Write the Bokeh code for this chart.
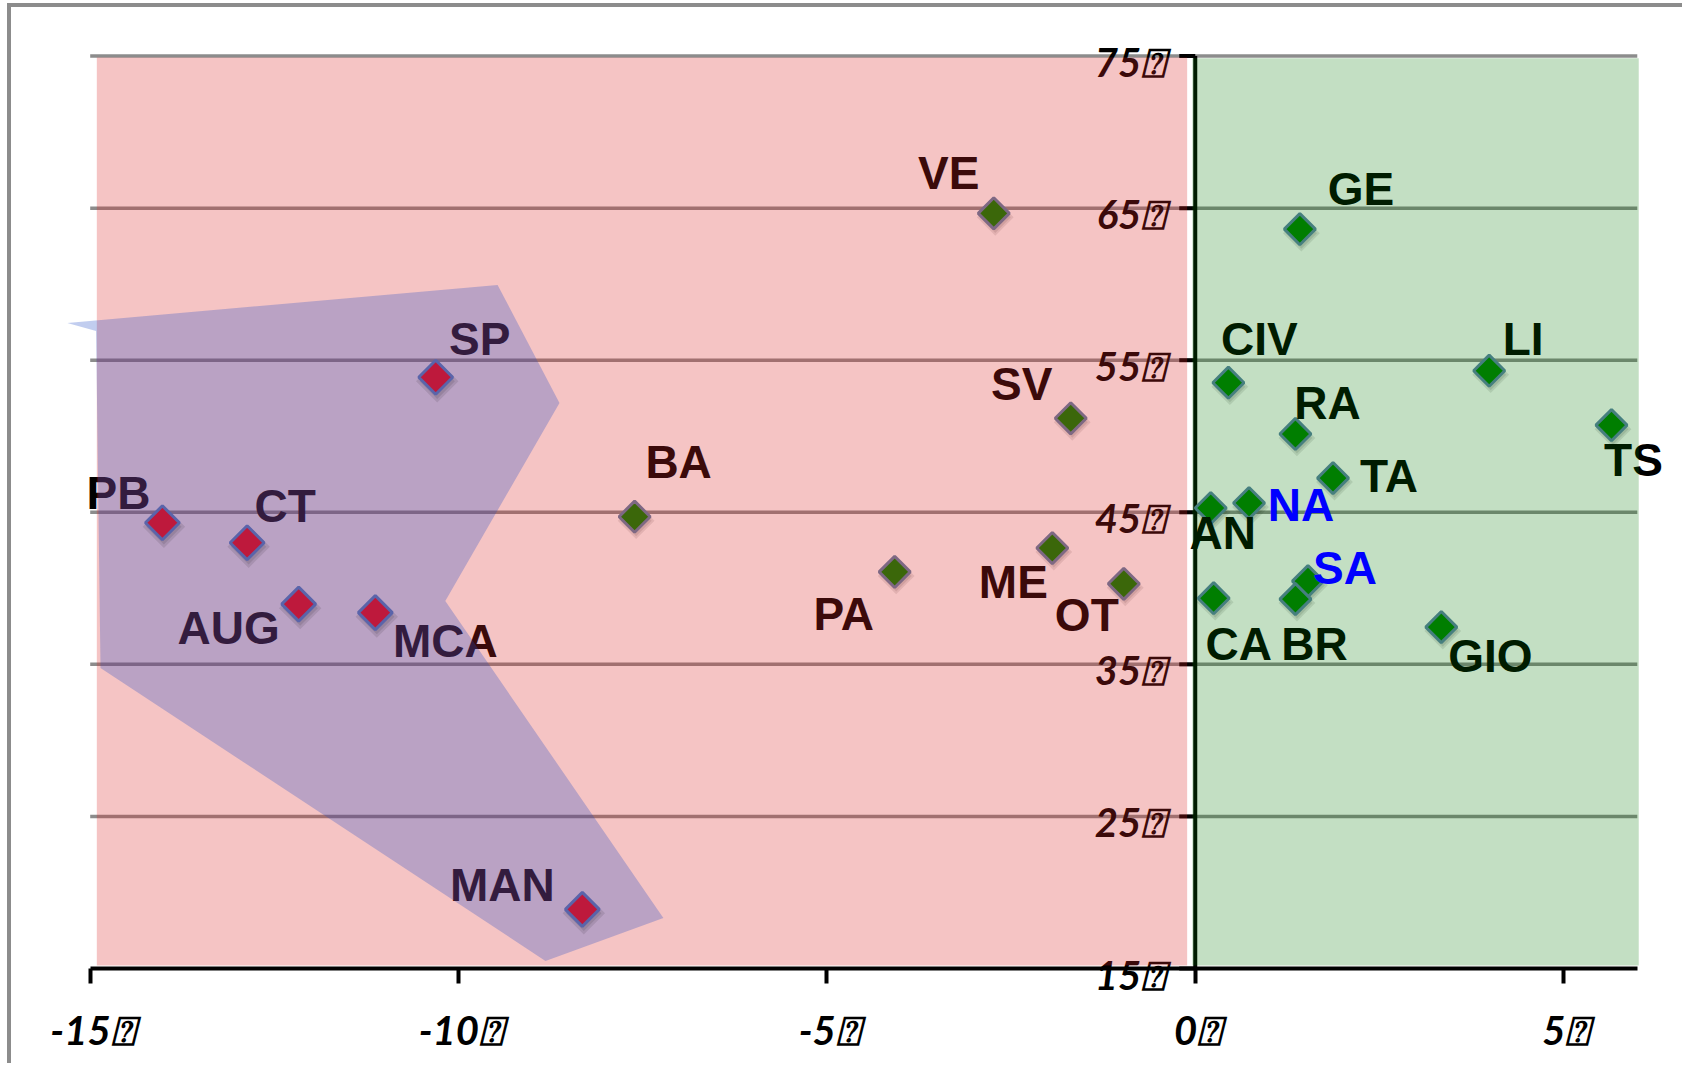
import numpy as np
from bokeh.plotting import figure
from bokeh.models import Range1d, FixedTicker
from bokeh.core.properties import value
from bokeh.embed import file_html
from bokeh.resources import INLINE

# ---------------- data ----------------
red_names = ["PB", "CT", "AUG", "MCA", "SP", "MAN"]
red_x = [-14.02, -12.87, -12.17, -11.13, -10.31, -8.32]
red_y = [44.31, 43.00, 38.96, 38.40, 53.88, 18.89]

green_names = ["BA", "PA", "VE", "SV", "ME", "OT", "CIV", "GE", "RA", "TA",
               "AN", "NA", "SA", "CA", "BR", "GIO", "LI", "TS"]
green_x = [-7.61, -4.08, -2.735, -1.69, -1.94, -0.97, 0.45, 1.42, 1.36, 1.87,
           0.21, 0.73, 1.53, 0.25, 1.36, 3.34, 3.99, 5.65]
green_y = [44.71, 41.08, 64.66, 51.18, 42.65, 40.30, 53.52, 63.62, 50.15, 47.25,
           45.28, 45.61, 40.47, 39.35, 39.29, 37.45, 54.31, 50.73]
blue_label_names = ["NA", "SA"]

# hand-drawn cluster outline around the red group
poly_x = [-15.31, -9.47, -8.63, -10.18, -7.22, -8.82, -14.86, -14.92]
poly_y = [57.45, 59.95, 52.19, 39.17, 18.32, 15.50, 34.76, 56.92]

x_ticks = [-15, -10, -5, 0, 5]
x_tick_labels = ["-15⍰", "-10⍰", "-5⍰", "0⍰", "5⍰"]
y_ticks = [15, 25, 35, 45, 55, 65, 75]
y_tick_labels = ["15⍰", "25⍰", "35⍰", "45⍰", "55⍰", "65⍰", "75⍰"]

# ---------------- style / layout ----------------
red_lab_dx = [-44, 38, -70, 70, 44, -80]
red_lab_dy = [-30, -37, 24, 28, -38, -24]
green_lab_dx = [44, -51, -45, -49, -39, -37, 31, 61, 32, 56, 12, 52, 37, 25, 19, 49, 34, 22]
green_lab_dy = [-55, 42, -40, -34, 34, 31, -44, -40, -31, -2, 25, 2, -13, 46, 45, 29, -32, 35]

PXX = 73.67     # px per x unit
PXY = 15.207    # px per y unit
W, H = 1675, 1060
ML, MR, MT, MB = 20, 10, 0, 10
ORX, ORY = 11, 7            # page position of the canvas origin
X15_PAGE, Y15_PAGE = 89.7, 968.0
x0 = -15 - (X15_PAGE - ORX - ML) / PXX
x1 = x0 + (W - ML - MR) / PXX
y1 = 15 + (Y15_PAGE - ORY - MT) / PXY
y0 = y1 - (H - MT - MB) / PXY

PINK = (217, 37, 37)
GREEN = (0, 120, 0)
PURPLE = (34, 75, 196)
pink_box = dict(left=-14.91, right=-0.11, bottom=15.2, top=74.9)
green_box = dict(left=-0.04, right=6.02, bottom=15.2, top=74.85)

p = figure(width=W, height=H, x_range=Range1d(x0, x1), y_range=Range1d(y0, y1),
           output_backend="svg", toolbar_location=None, y_axis_location=None,
           min_border_left=ML, min_border_right=MR, min_border_top=MT,
           min_border_bottom=MB)
p.outline_line_color = None
p.grid.grid_line_color = None
p.background_fill_color = "white"
p.border_fill_color = "white"
p.styles = {"border-left": "4px solid #8c8c8c", "border-top": "4px solid #8c8c8c",
            "margin-left": "7px", "margin-top": "3px"}

# x axis, drawn at y = 15
ax = p.xaxis[0]
ax.fixed_location = 15
ax.ticker = FixedTicker(ticks=x_ticks)
ax.bounds = (-15, 6)
ax.major_label_overrides = {t: "\u2009" + l for t, l in zip(x_ticks, x_tick_labels)}
ax.axis_line_color = "black"
ax.axis_line_width = 4
ax.major_tick_line_color = "black"
ax.major_tick_line_width = 4
ax.major_tick_out = 15
ax.major_tick_in = 0
ax.minor_tick_out = 0
ax.minor_tick_in = 0
ax.major_label_standoff = 22
ax.major_label_text_font = "Lato"
ax.major_label_text_font_style = "bold italic"
ax.major_label_text_font_size = "40px"
ax.major_label_text_color = "black"

# gridlines
grid_y = y_ticks[1:]
p.segment(x0=[-15] * len(grid_y), x1=[6] * len(grid_y), y0=grid_y, y1=grid_y,
          line_color="#8c8c8c", line_width=3.5)

# y axis at x = 0 (drawn under the tinted regions)
p.segment(x0=[0], x1=[0], y0=[15], y1=[75], line_color="black", line_width=4)
tick_len = 16 / PXX
p.segment(x0=[-tick_len] * len(y_ticks), x1=[0] * len(y_ticks), y0=y_ticks, y1=y_ticks,
          line_color="black", line_width=4)
p.text(x=[0] * len(y_ticks), y=y_ticks, text=y_tick_labels, x_offset=-30, y_offset=6,
       text_align="right", text_baseline="middle", text_font=value("Lato"),
       text_font_style="bold italic", text_font_size="40px", text_color="black")

gx = np.array(green_x)
gy = np.array(green_y)
rx = np.array(red_x)
ry = np.array(red_y)
sdx, sdy = 1.5 / PXX, 4 / PXY

# green markers
p.scatter(gx + sdx, gy - sdy, marker="square", angle=np.pi / 4, size=26,
          fill_color="black", fill_alpha=0.10, line_color=None)
p.scatter(gx + sdx, gy - sdy, marker="square", angle=np.pi / 4, size=22,
          fill_color="black", fill_alpha=0.10, line_color=None)
p.scatter(gx, gy, marker="square", angle=np.pi / 4, size=22, fill_color="#008000",
          line_color="#5c82a7", line_width=3)

# labels (black ones, drawn beneath tinted regions)
lab_x, lab_y, lab_t = [], [], []
for n, x, y, dx, dy in zip(red_names, red_x, red_y, red_lab_dx, red_lab_dy):
    lab_x.append(x + dx / PXX); lab_y.append(y - dy / PXY); lab_t.append(n)
blue_x, blue_y, blue_t = [], [], []
for n, x, y, dx, dy in zip(green_names, green_x, green_y, green_lab_dx, green_lab_dy):
    if n in blue_label_names:
        blue_x.append(x + dx / PXX); blue_y.append(y - dy / PXY); blue_t.append(n)
    else:
        lab_x.append(x + dx / PXX); lab_y.append(y - dy / PXY); lab_t.append(n)
p.text(x=lab_x, y=lab_y, text=lab_t, text_align="center", text_baseline="middle",
       text_font=value("Liberation Sans"), text_font_style="bold",
       text_font_size="46px", text_color="black")

# tinted regions
p.quad(**{k: [v] for k, v in pink_box.items()}, fill_color=PINK, fill_alpha=0.27,
       line_color=None)
p.quad(**{k: [v] for k, v in green_box.items()}, fill_color=GREEN, fill_alpha=0.235,
       line_color=None)
p.patch(poly_x, poly_y, fill_color=PURPLE, fill_alpha=0.28, line_color=None)

# red markers on top
p.scatter(rx + sdx, ry - sdy, marker="square", angle=np.pi / 4, size=30,
          fill_color="black", fill_alpha=0.10, line_color=None)
p.scatter(rx + sdx, ry - sdy, marker="square", angle=np.pi / 4, size=25,
          fill_color="black", fill_alpha=0.10, line_color=None)
p.scatter(rx, ry, marker="square", angle=np.pi / 4, size=24, fill_color="#be193c",
          line_color="#5a64aa", line_width=3)

# blue labels on top
p.text(x=blue_x, y=blue_y, text=blue_t, text_align="center", text_baseline="middle",
       text_font=value("Liberation Sans"), text_font_style="bold",
       text_font_size="46px", text_color="#0000ff")

open("out.html", "w").write(file_html(p, INLINE))
